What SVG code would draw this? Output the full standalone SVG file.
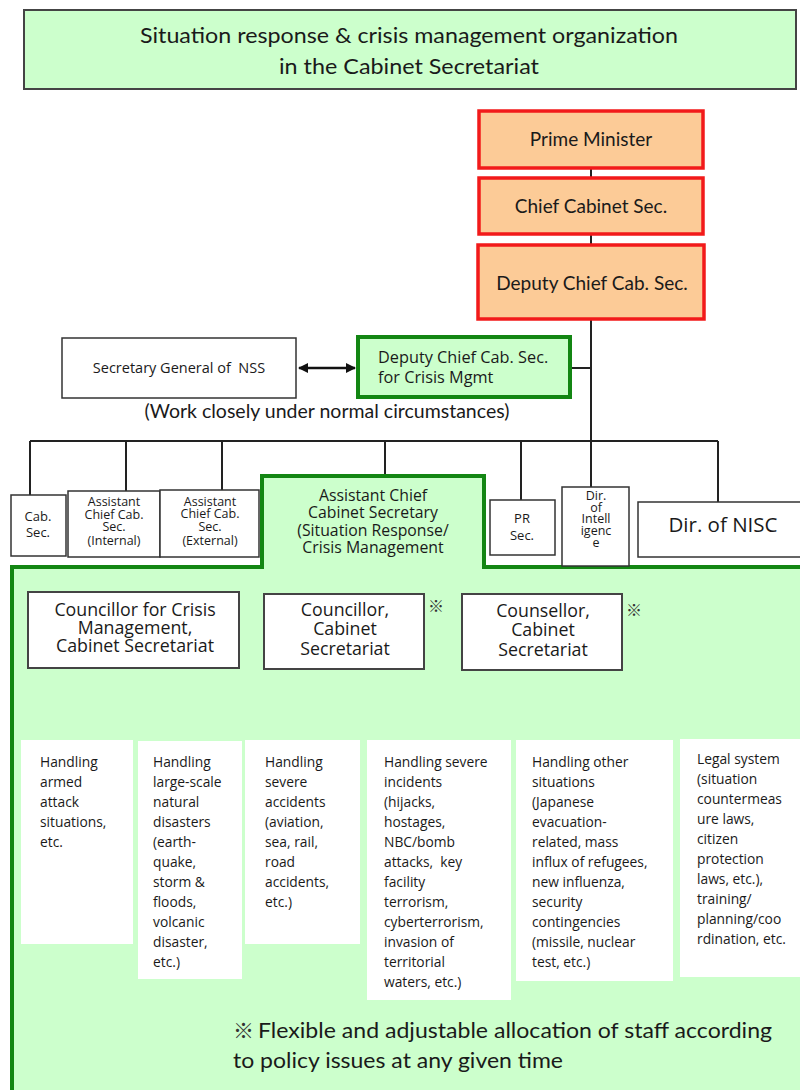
<svg xmlns="http://www.w3.org/2000/svg" width="800" height="1090" viewBox="0 0 800 1090">
<style>
.cal{font-family:Lato,"Liberation Sans",sans-serif;fill:#1a1a1a}
.seg{font-family:"Open Sans","Noto Sans",sans-serif;fill:#1a1a1a}
.cjk{font-family:"Noto Sans CJK JP",sans-serif;fill:#333}
.conn{stroke:#222;stroke-width:2;fill:none}
.red{fill:#fccb97;stroke:#f21a1a;stroke-width:3.5}
.green{fill:#ccffcc;stroke:#138613;stroke-width:4}
.wbox{fill:#fff;stroke:#333;stroke-width:1.5}
.cbox{fill:#fff;stroke:#444;stroke-width:2}
.hbox{fill:#fff}
.mid{text-anchor:middle}
.ht{font-size:13.8px}
</style>
<defs>
<marker id="ah" viewBox="0 0 10 10" refX="9" refY="5" markerWidth="4" markerHeight="4" orient="auto-start-reverse">
<path d="M0,0 L10,5 L0,10 z" fill="#111"/>
</marker>
</defs>
<rect width="800" height="1090" fill="#fff"/>

<g id="title">
<rect x="24" y="10" width="772" height="79" fill="#ccffcc" stroke="#444" stroke-width="2"/>
<text class="cal mid" x="409" y="43" font-size="22" textLength="538" lengthAdjust="spacingAndGlyphs">Situation response &amp; crisis management organization</text>
<text class="cal mid" x="409" y="74" font-size="22" textLength="260" lengthAdjust="spacingAndGlyphs">in the Cabinet Secretariat</text>
</g>

<g id="panel">
<rect x="12" y="567" width="800" height="540" class="green"/>
</g>

<g id="connectors">
<path class="conn" d="M591,168 V487"/>
<path class="conn" d="M570,368 H591"/>
<path class="conn" d="M30,441 H718"/>
<path class="conn" d="M30,441 V495 M126,441 V491 M222,441 V490 M385,441 V476 M521,441 V500 M718,441 V502"/>
<path d="M299,368 H355" stroke="#111" stroke-width="2.5" fill="none" marker-start="url(#ah)" marker-end="url(#ah)"/>
</g>

<g id="prime-minister">
<rect x="479" y="111" width="224" height="57" class="red"/>
<text class="cal mid" x="591" y="146" font-size="19">Prime Minister</text>
</g>
<g id="chief-cabinet-sec">
<rect x="479" y="178" width="224" height="56" class="red"/>
<text class="cal mid" x="591" y="213" font-size="19">Chief Cabinet Sec.</text>
</g>
<g id="deputy-chief-cab-sec">
<rect x="478" y="245" width="226" height="74" class="red"/>
<text class="cal mid" x="592" y="290" font-size="19">Deputy Chief Cab. Sec.</text>
</g>

<g id="secretary-general-nss">
<rect x="62" y="338" width="234" height="60" class="wbox"/>
<text class="seg mid" x="179" y="373" font-size="14.5" xml:space="preserve">Secretary General of  NSS</text>
</g>
<g id="deputy-crisis">
<rect x="358" y="337" width="212" height="60" class="green"/>
<text class="seg" x="378" y="363" font-size="16.3">Deputy Chief Cab. Sec.</text>
<text class="seg" x="378" y="383" font-size="16.3">for Crisis Mgmt</text>
</g>
<text class="cal mid" x="327" y="418" font-size="19.5">(Work closely under normal circumstances)</text>

<g id="cab-sec">
<rect x="11" y="495" width="55" height="61" class="wbox"/>
<text class="seg mid" x="38" y="521" font-size="13">Cab.</text>
<text class="seg mid" x="38" y="537" font-size="13">Sec.</text>
</g>
<g id="acs-internal">
<rect x="68" y="491" width="92" height="66" class="wbox"/>
<text class="seg mid" font-size="12.5"><tspan x="114" y="506">Assistant</tspan><tspan x="114" y="518.5">Chief Cab.</tspan><tspan x="114" y="531">Sec.</tspan><tspan x="114" y="545">(Internal)</tspan></text>
</g>
<g id="acs-external">
<rect x="160" y="490" width="99" height="67" class="wbox"/>
<text class="seg mid" font-size="12.5"><tspan x="210" y="505.5">Assistant</tspan><tspan x="210" y="518">Chief Cab.</tspan><tspan x="210" y="530.5">Sec.</tspan><tspan x="210" y="545">(External)</tspan></text>
</g>
<g id="acs-situation">
<rect x="262" y="476" width="222" height="93" fill="#ccffcc"/>
<path d="M262,569 V476 H484 V569" fill="none" stroke="#138613" stroke-width="4"/>
<text class="seg mid" font-size="15.8"><tspan x="373" y="501">Assistant Chief</tspan><tspan x="373" y="518">Cabinet Secretary</tspan><tspan x="373" y="536">(Situation Response/</tspan><tspan x="373" y="553">Crisis Management</tspan></text>
</g>
<g id="pr-sec">
<rect x="490" y="500" width="65" height="55" class="wbox"/>
<text class="seg mid" font-size="13"><tspan x="522" y="523">PR</tspan><tspan x="522" y="540">Sec.</tspan></text>
</g>
<g id="dir-intelligence">
<rect x="562" y="487" width="67" height="79" class="wbox"/>
<text class="seg mid" font-size="12.5"><tspan x="596" y="500">Dir.</tspan><tspan x="596" y="511.5">of</tspan><tspan x="596" y="523">Intell</tspan><tspan x="596" y="535">igenc</tspan><tspan x="596" y="547">e</tspan></text>
</g>
<g id="dir-nisc">
<rect x="638" y="502" width="170" height="55" class="wbox"/>
<text class="seg mid" x="723" y="532" font-size="20.5">Dir. of NISC</text>
</g>

<g id="councillor-crisis">
<rect x="28" y="592" width="211" height="76" class="cbox"/>
<text class="seg mid" font-size="17.8"><tspan x="135" y="616">Councillor for Crisis</tspan><tspan x="135" y="634">Management,</tspan><tspan x="135" y="652">Cabinet Secretariat</tspan></text>
</g>
<g id="councillor-cabinet">
<rect x="264" y="594" width="160" height="75" class="cbox"/>
<text class="seg mid" font-size="17.8"><tspan x="345" y="616">Councillor,</tspan><tspan x="345" y="635">Cabinet</tspan><tspan x="345" y="655">Secretariat</tspan></text>
<text class="cjk" x="428" y="612" font-size="16" font-weight="bold" fill="#222">※</text>
</g>
<g id="counsellor-cabinet">
<rect x="462" y="594" width="160" height="76" class="cbox"/>
<text class="seg mid" font-size="17.8"><tspan x="543" y="617">Counsellor,</tspan><tspan x="543" y="636">Cabinet</tspan><tspan x="543" y="656">Secretariat</tspan></text>
<text class="cjk" x="626" y="616" font-size="16" font-weight="bold" fill="#222">※</text>
</g>

<g id="h-armed">
<rect x="21" y="740" width="112" height="204" class="hbox"/>
<text class="seg ht"><tspan x="40" y="767">Handling</tspan><tspan x="40" y="787">armed</tspan><tspan x="40" y="807">attack</tspan><tspan x="40" y="827">situations,</tspan><tspan x="40" y="847">etc.</tspan></text>
</g>
<g id="h-disasters">
<rect x="138" y="741" width="104" height="238" class="hbox"/>
<text class="seg ht"><tspan x="153" y="767">Handling</tspan><tspan x="153" y="787">large-scale</tspan><tspan x="153" y="807">natural</tspan><tspan x="153" y="827">disasters</tspan><tspan x="153" y="847">(earth-</tspan><tspan x="153" y="867">quake,</tspan><tspan x="153" y="887">storm &amp;</tspan><tspan x="153" y="907">floods,</tspan><tspan x="153" y="927">volcanic</tspan><tspan x="153" y="947">disaster,</tspan><tspan x="153" y="967">etc.)</tspan></text>
</g>
<g id="h-accidents">
<rect x="245" y="740" width="115" height="204" class="hbox"/>
<text class="seg ht"><tspan x="265" y="767">Handling</tspan><tspan x="265" y="787">severe</tspan><tspan x="265" y="807">accidents</tspan><tspan x="265" y="827">(aviation,</tspan><tspan x="265" y="847">sea, rail,</tspan><tspan x="265" y="867">road</tspan><tspan x="265" y="887">accidents,</tspan><tspan x="265" y="907">etc.)</tspan></text>
</g>
<g id="h-incidents">
<rect x="367" y="740" width="144" height="260" class="hbox"/>
<text class="seg ht" xml:space="preserve"><tspan x="384" y="767">Handling severe</tspan><tspan x="384" y="787">incidents</tspan><tspan x="384" y="807">(hijacks,</tspan><tspan x="384" y="827">hostages,</tspan><tspan x="384" y="847">NBC/bomb</tspan><tspan x="384" y="867">attacks,  key</tspan><tspan x="384" y="887">facility</tspan><tspan x="384" y="907">terrorism,</tspan><tspan x="384" y="927">cyberterrorism,</tspan><tspan x="384" y="947">invasion of</tspan><tspan x="384" y="967">territorial</tspan><tspan x="384" y="987">waters, etc.)</tspan></text>
</g>
<g id="h-other">
<rect x="516" y="740" width="157" height="241" class="hbox"/>
<text class="seg ht"><tspan x="532" y="767">Handling other</tspan><tspan x="532" y="787">situations</tspan><tspan x="532" y="807">(Japanese</tspan><tspan x="532" y="827">evacuation-</tspan><tspan x="532" y="847">related, mass</tspan><tspan x="532" y="867">influx of refugees,</tspan><tspan x="532" y="887">new influenza,</tspan><tspan x="532" y="907">security</tspan><tspan x="532" y="927">contingencies</tspan><tspan x="532" y="947">(missile, nuclear</tspan><tspan x="532" y="967">test, etc.)</tspan></text>
</g>
<g id="h-legal">
<rect x="680" y="739" width="120" height="238" class="hbox"/>
<text class="seg ht"><tspan x="697" y="764">Legal system</tspan><tspan x="697" y="784">(situation</tspan><tspan x="697" y="804">countermeas</tspan><tspan x="697" y="824">ure laws,</tspan><tspan x="697" y="844">citizen</tspan><tspan x="697" y="864">protection</tspan><tspan x="697" y="884">laws, etc.),</tspan><tspan x="697" y="904">training/</tspan><tspan x="697" y="924">planning/coo</tspan><tspan x="697" y="944">rdination, etc.</tspan></text>
</g>

<g id="note">
<text class="cjk" x="233" y="1038" font-size="21" fill="#1a1a1a">※</text>
<text class="cal" x="258" y="1038" font-size="22" textLength="514" lengthAdjust="spacingAndGlyphs">Flexible and adjustable allocation of staff according</text>
<text class="cal" x="233" y="1068" font-size="22" textLength="330" lengthAdjust="spacingAndGlyphs">to policy issues at any given time</text>
</g>
</svg>
